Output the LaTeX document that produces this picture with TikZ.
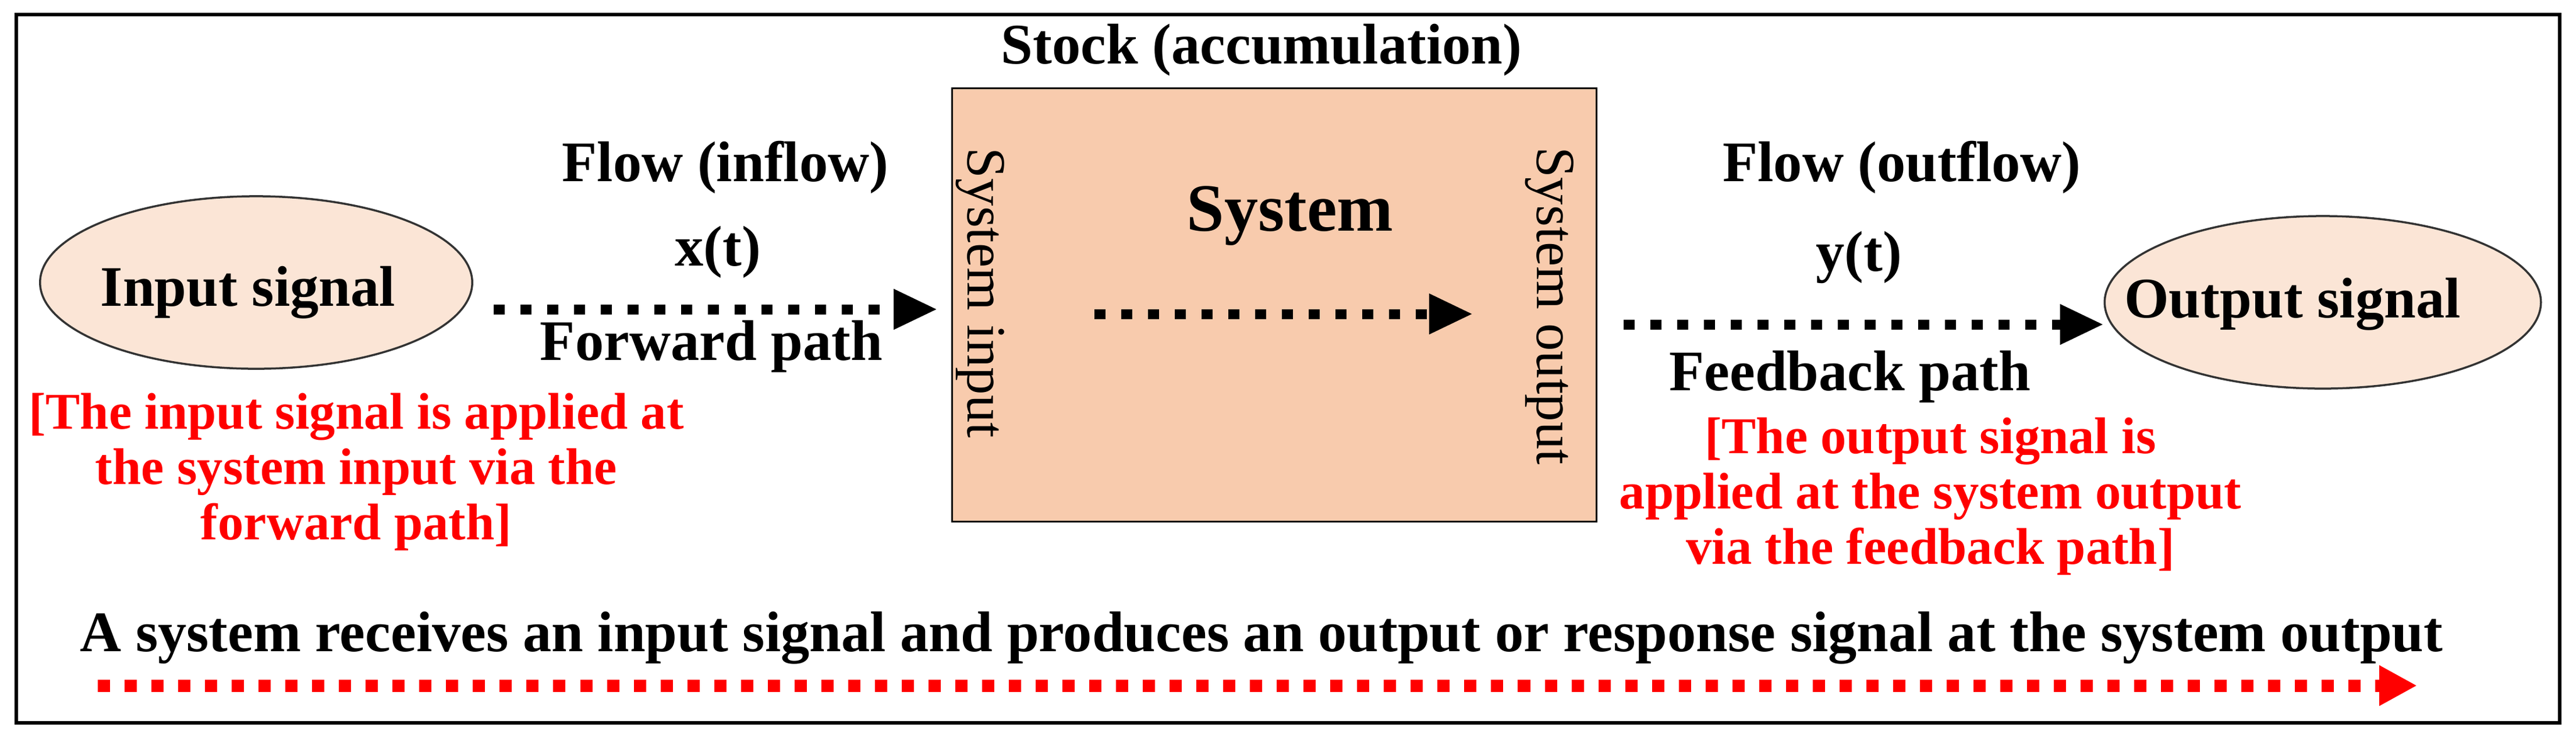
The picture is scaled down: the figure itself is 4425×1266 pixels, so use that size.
\documentclass[tikz,border=0pt]{standalone}
\usepackage{fontspec}
\setmainfont{Liberation Serif}
\usetikzlibrary{arrows.meta,shapes.geometric}
\definecolor{boxfill}{HTML}{F8CBAD}
\definecolor{ellfill}{HTML}{FBE5D6}
\definecolor{ellline}{HTML}{333333}
\definecolor{myred}{HTML}{FF0000}
\begin{document}
\begin{tikzpicture}[x=0.01cm,y=-0.01cm,
  lbl/.style={font=\fontsize{28}{33}\selectfont\bfseries, inner sep=0pt, anchor=base},
  redlbl/.style={font=\fontsize{25.2}{27}\selectfont\bfseries, text=myred, align=center, inner sep=0pt},
  rotlbl/.style={font=\fontsize{27}{32}\selectfont, rotate=-90, inner sep=0pt},
  sig/.style={ellipse, draw=ellline, line width=0.035cm, fill=ellfill, minimum width=7.42cm, minimum height=2.96cm, inner sep=0pt},
  flowarrow/.style={line width=0.17cm, dash pattern=on 0.19cm off 0.27cm, -{Triangle[length=0.75cm,width=0.65cm]}},
  redarrow/.style={myred, line width=0.21cm, dash pattern=on 0.21cm off 0.25cm, -{Triangle[length=0.65cm,width=0.65cm]}}
]
\useasboundingbox (0,0) rectangle (4425,1266);
\draw[line width=0.065cm] (28,25) rectangle (4397,1241);

% shapes
\node[sig] (inp) at (440,485) {};
\node[sig, minimum width=7.49cm] (out) at (3990,519) {};
\node[draw, line width=0.03cm, fill=boxfill, minimum width=11.06cm, minimum height=7.43cm, inner sep=0pt] (sys) at (2189,523.5) {};

% labels
\node[lbl] (inptxt) at (426,525) {Input signal};
\node[lbl] (outtxt) at (3938,545) {Output signal};
\node[lbl] (stock) at (2167,109) {Stock (accumulation)};
\node[lbl] (flowin) at (1246,311) {Flow (inflow)};
\node[lbl] (xt) at (1233,456) {x(t)};
\node[lbl] (fwd) at (1222,618) {Forward path};
\node[lbl, font=\fontsize{33}{38}\selectfont\bfseries] (systxt) at (2216,396) {System};
\node[rotlbl] (sysin) at (1684,503) {System input};
\node[rotlbl] (sysout) at (2662,525) {System output};
\node[lbl] (flowout) at (3267,311) {Flow (outflow)};
\node[lbl] (yt) at (3193,465) {y(t)};
\node[lbl] (fb) at (3178,670) {Feedback path};
\node[redlbl] (redin) at (612,810) {[The input signal is applied at\\the system input via the\\forward path]};
\node[redlbl] (redout) at (3316,852) {[The output signal is\\applied at the system output\\via the feedback path]};
\node[lbl] (bottom) at (2167,1118) {A system receives an input signal and produces an output or response signal at the system output};

% connectors
\coordinate (fwdS) at (848,531);
\draw[flowarrow, shorten >=0.24cm] (fwdS) -- (sys.west |- fwdS);
\coordinate (inS) at (1880,539);
\coordinate (inE) at (2530,539);
\draw[flowarrow] (inS) -- (inE);
\coordinate (outS) at (2789,557);
\draw[flowarrow] (outS) -- (out.west |- outS);
\coordinate (redS) at (168,1177);
\coordinate (redE) at (4152,1177);
\draw[redarrow] (redS) -- (redE);
\end{tikzpicture}
\end{document}
